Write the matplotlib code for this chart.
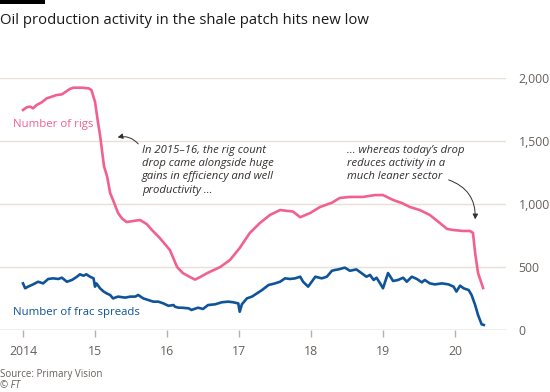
import matplotlib
matplotlib.use("Agg")
import matplotlib.pyplot as plt
from matplotlib.patches import FancyArrowPatch

plt.rcParams['font.family'] = ['Open Sans', 'DejaVu Sans']

title = "Oil production activity in the shale patch hits new low"
source = "Source: Primary Vision"
credit = "© FT"

rig_years = [2014.00, 2014.05, 2014.10, 2014.14, 2014.19, 2014.26, 2014.33, 2014.40,
             2014.47, 2014.54, 2014.61, 2014.65, 2014.70, 2014.815, 2014.91, 2014.95,
             2015.00, 2015.04, 2015.07, 2015.125, 2015.17, 2015.21, 2015.25,
             2015.32, 2015.375, 2015.44, 2015.53, 2015.625, 2015.72, 2015.79, 2015.90,
             2016.04, 2016.14, 2016.22, 2016.32, 2016.39, 2016.46, 2016.56, 2016.74,
             2016.875, 2017.01, 2017.15, 2017.29, 2017.43, 2017.57, 2017.75, 2017.85,
             2017.99, 2018.125, 2018.29, 2018.40, 2018.54, 2018.72, 2018.89, 2019.00,
             2019.14, 2019.26, 2019.375, 2019.51, 2019.65, 2019.79, 2019.89, 2019.97,
             2020.11, 2020.21, 2020.25, 2020.28, 2020.32, 2020.39]
rig_values = [1746, 1767, 1773, 1759, 1786, 1807, 1839, 1852,
              1865, 1870, 1897, 1913, 1923, 1923, 1918, 1905,
              1812, 1653, 1548, 1300, 1214, 1087, 1032,
              929, 885, 857, 865, 873, 840, 794, 730,
              635, 500, 452, 420, 400, 420, 452, 500,
              556, 651, 770, 849, 913, 952, 940, 895,
              929, 976, 1010, 1048, 1056, 1056, 1071, 1071,
              1032, 1008, 976, 952, 913, 849, 802, 794,
              786, 786, 770, 611, 452, 333]

frac_years = [2014.00, 2014.03, 2014.07, 2014.14, 2014.21, 2014.28, 2014.35, 2014.42,
              2014.49, 2014.54, 2014.61, 2014.68, 2014.75, 2014.79, 2014.84, 2014.88,
              2014.93, 2014.98, 2015.00, 2015.02, 2015.07, 2015.12, 2015.16, 2015.21,
              2015.25, 2015.32, 2015.42, 2015.49, 2015.56, 2015.60, 2015.67, 2015.74,
              2015.81, 2015.88, 2015.95, 2016.02, 2016.09, 2016.11, 2016.16, 2016.20,
              2016.30, 2016.34, 2016.43, 2016.50, 2016.57, 2016.67, 2016.76, 2016.85,
              2016.92, 2016.99, 2017.01, 2017.04, 2017.11, 2017.18, 2017.25, 2017.32,
              2017.41, 2017.50, 2017.57, 2017.64, 2017.71, 2017.78, 2017.85, 2017.89,
              2017.96, 2018.01, 2018.06, 2018.15, 2018.22, 2018.29, 2018.33, 2018.38,
              2018.40, 2018.47, 2018.54, 2018.63, 2018.70, 2018.77, 2018.82, 2018.87,
              2018.91, 2018.96, 2019.00, 2019.03, 2019.07, 2019.14, 2019.21, 2019.28,
              2019.33, 2019.40, 2019.47, 2019.54, 2019.58, 2019.65, 2019.72, 2019.82,
              2019.91, 2019.98, 2020.02, 2020.07, 2020.12, 2020.19, 2020.23, 2020.28,
              2020.32, 2020.37, 2020.40]
frac_values = [370, 331, 344, 362, 383, 370, 405, 410,
               405, 415, 383, 397, 423, 442, 431, 442,
               423, 410, 344, 370, 331, 305, 291, 278,
               251, 265, 257, 265, 265, 278, 251, 238,
               225, 225, 211, 192, 198, 185, 177, 177,
               172, 159, 177, 167, 198, 204, 220, 225,
               220, 211, 145, 204, 251, 265, 291, 317,
               357, 370, 383, 410, 405, 410, 423, 383,
               344, 383, 423, 410, 423, 470, 476, 481,
               484, 495, 470, 481, 452, 423, 437, 397,
               415, 370, 331, 383, 452, 389, 397, 415,
               383, 423, 405, 378, 397, 370, 362, 370,
               362, 344, 305, 352, 331, 317, 278, 198,
               119, 45, 40]

year_ticks = [2014, 2015, 2016, 2017, 2018, 2019, 2020]
year_labels = ["2014", "15", "16", "17", "18", "19", "20"]
y_ticks = [0, 500, 1000, 1500, 2000]
y_labels = ["0", "500", "1,000", "1,500", "2,000"]

PINK = "#f2608f"
BLUE = "#0f5499"
GRID = "#e9e0d8"
TXT = "#66605c"

W, H = 550, 392
fig = plt.figure(figsize=(W / 100, H / 100), dpi=100)
fig.patch.set_facecolor("white")

ax = fig.add_axes([0, (H - 330) / H, 506 / W, 252 / H])
ax.set_xlim(2014 - 23 / 72, 2014 + (506 - 23) / 72)
ax.set_ylim(0, 2000)

for yv in y_ticks[1:]:
    ax.axhline(yv, color=GRID, lw=1, zorder=0)
ax.axhline(0, color="#b8aea6", lw=1, zorder=1)

ax.plot(rig_years, rig_values, color=PINK, lw=1.9, zorder=3, solid_joinstyle="round")
ax.plot(frac_years, frac_values, color=BLUE, lw=1.9, zorder=3, solid_joinstyle="round")

for s in ax.spines.values():
    s.set_visible(False)

ax.set_xticks(year_ticks)
ax.set_xticklabels(year_labels)
ax.tick_params(axis="x", length=5, width=1, color="#b8aea6", pad=6,
               labelsize=8.8, labelcolor=TXT)
ax.yaxis.tick_right()
ax.set_yticks(y_ticks)
ax.set_yticklabels(y_labels)
ax.tick_params(axis="y", length=0, pad=9, labelsize=8.8, labelcolor=TXT)
ax.patch.set_alpha(0)

# labels
fig.text(13 / W, 1 - 125 / H, "Number of rigs", color=PINK, fontsize=8.2, va="center", ha="left")
fig.text(13 / W, 1 - 313 / H, "Number of frac spreads", color=BLUE, fontsize=8.2, va="center", ha="left")

ann1 = ["In 2015–16, the rig count", "drop came alongside huge",
        "gains in efficiency and well", "productivity ..."]
for i, line in enumerate(ann1):
    fig.text(142 / W, 1 - (150 + i * 13.4) / H, line, fontsize=8.1, style="italic",
             color="#33302e", va="center", ha="left")
ann2 = ["... whereas today’s drop", "reduces activity in a", "much leaner sector"]
for i, line in enumerate(ann2):
    fig.text(347 / W, 1 - (150 + i * 13.4) / H, line, fontsize=8.1, style="italic",
             color="#33302e", va="center", ha="left")

arr1 = FancyArrowPatch((140 / W, 1 - 146 / H), (115 / W, 1 - 138 / H),
                       transform=fig.transFigure, connectionstyle="arc3,rad=0.35",
                       arrowstyle="-|>,head_length=3,head_width=1.6", color="#33302e", lw=0.7)
fig.add_artist(arr1)
arr2 = FancyArrowPatch((446 / W, 1 - 179 / H), (475 / W, 1 - 222 / H),
                       transform=fig.transFigure, connectionstyle="arc3,rad=-0.4",
                       arrowstyle="-|>,head_length=3,head_width=1.6", color="#33302e", lw=0.7)
fig.add_artist(arr2)

# title & top bar
fig.add_artist(plt.Rectangle((0, 1 - 4 / H), 45 / W, 4 / H, transform=fig.transFigure,
                             color="black", lw=0))
fig.text(0, 1 - 20 / H, title, fontsize=10.7, color="#1a1a1a", va="center", ha="left")

fig.text(0, 1 - 374 / H, source, fontsize=7.0, color=TXT, va="center", ha="left")
fig.text(0, 1 - 386 / H, credit, fontsize=7.0, color=TXT, va="center", ha="left", style="italic")

fig.savefig("out.png", dpi=100, facecolor="white")
